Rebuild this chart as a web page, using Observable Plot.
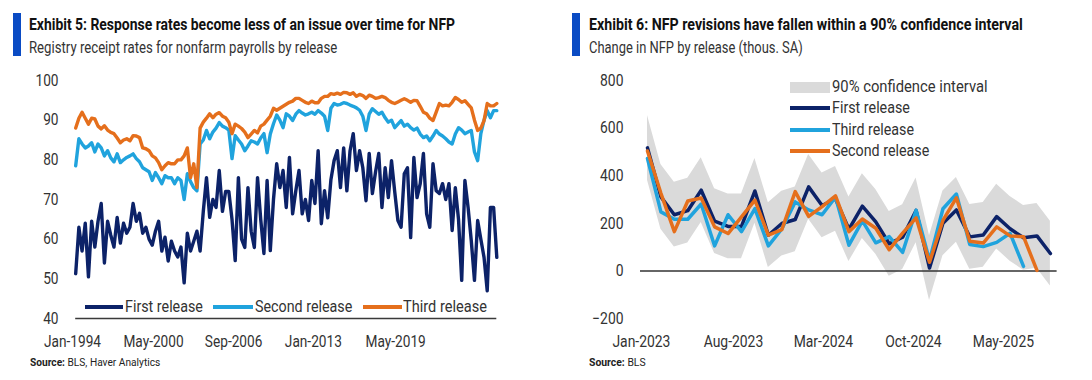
<!DOCTYPE html>
<html><head><meta charset="utf-8">
<script src="https://cdn.jsdelivr.net/npm/d3@7"></script>
<script src="https://cdn.jsdelivr.net/npm/@observablehq/plot@0.6"></script>
<style>
html,body{margin:0;padding:0;background:#fff;}
body{width:1092px;height:380px;overflow:hidden;position:relative;font-family:Roboto,"Liberation Sans",sans-serif;}
.panel{position:absolute;top:0;width:546px;height:380px;}
.bar{position:absolute;top:13px;width:8px;height:43px;background:#0a4bc4;}
.fit{position:absolute;white-space:nowrap;transform-origin:0 50%;display:inline-block;}
.title{top:15px;font-weight:bold;font-size:16.5px;color:#111;line-height:20px;}
.subtitle{top:38px;font-size:16px;color:#333;line-height:20px;}
.chart{position:absolute;left:0;top:60px;}
.source{top:355px;font-size:11.5px;color:#222;line-height:14px;}
.lg{font-size:16.5px;color:#333;line-height:20px;}
.sw{position:absolute;}
</style></head>
<body>
<div class="panel" id="p1" style="left:0">
  <div class="bar" style="left:13px"></div>
  <div class="fit title" data-w="426" style="left:29px">Exhibit 5: Response rates become less of an issue over time for NFP</div>
  <div class="fit subtitle" data-w="308" style="left:29px">Registry receipt rates for nonfarm payrolls by release</div>
  <div class="chart" id="c1"></div>
  <div id="lg1"></div>
  <div class="fit source" data-w="130" style="left:30px"><b>Source:</b> BLS, Haver Analytics</div>
</div>
<div class="panel" id="p2" style="left:546px">
  <div class="bar" style="left:26px"></div>
  <div class="fit title" data-w="434" style="left:43px">Exhibit 6: NFP revisions have fallen within a 90% confidence interval</div>
  <div class="fit subtitle" data-w="214" style="left:43px">Change in NFP by release (thous. SA)</div>
  <div class="chart" id="c2"></div>
  <div id="lg2"></div>
  <div class="fit source" data-w="57" style="left:43px"><b>Source:</b> BLS</div>
</div>
<script>
const FONT = 'Roboto,"Liberation Sans",sans-serif';
const NAVY = "#0c2268", CYAN = "#20a3dd", ORANGE = "#e56f1c", GRAY = "#dadada";

// ---------- Exhibit 5: registry receipt rates (quarterly samples, Jan-1994 onward) ----------
const rrFirst = [51.3,63,57,64,50.5,64.5,58,64.5,69,54,
 64.5,61,58,65.5,59,64,61.5,63,69,64.5,
 66.5,61.5,63,60,58.5,62,64.5,57,60.5,54.5,
 59.5,57,55.5,58,49,61.5,57,59.5,62,57,
 67,75.5,65.5,70,68,77.3,67,72,72,65,
 54.6,75.5,60,57.9,73,62,57.9,75.5,65,56.4,
 74.8,57.1,70,79,73,77.3,68,80.6,66.4,72.2,
 77.3,66.4,70,64.7,74.8,69,82.3,63.9,72.2,65.4,
 75,79.8,82.3,73,83,72.2,82.3,86.6,77.3,82.3,
 78,69.7,81.6,71.5,77,81.6,68,78,70.5,79.8,
 72,64.7,63,76.5,78,60.4,80.6,70.5,74,81.6,
 66.4,63,79,72.2,71.5,74,70,74,62.2,73,
 65,49.6,74.8,68,59.6,49.6,64.7,60,55.4,47,
 68,68,55.4];
const rrSecond = [78.5,85.3,84,83,83.5,84.3,82,84,83,81,
 82.3,80.5,79.5,81.5,79.3,80,80.6,81,81.5,80.3,
 79.5,78,77.5,77,74.8,76.8,75.5,74,76,75.5,
 75.5,74,75.5,74.8,70,76.5,74.5,73,72.2,84,
 85,87.4,85.3,87,88,89.4,88.5,88.1,87.5,80.3,
 86.1,85,84,82.3,83.5,84.8,84.5,84,85.5,86.6,
 81.8,86.5,89.1,91.3,90,88.1,91.6,91,89.9,91.5,
 92.4,91.8,91.3,91.6,92,91.5,92.4,91.8,91,87.4,
 93,94.2,93.8,94,94.4,94.2,93.8,93.5,93.1,92.5,
 91,87.4,91.5,92.9,92.2,91.5,92,90.6,89.5,90,
 88.1,89,89.9,88.5,89,88.1,87.5,88,86.5,85.6,
 86,84.8,86,87.4,86.5,86,85.3,84.5,84,86.5,
 88.1,87.5,86.6,87,87.4,82,79.8,86.6,90,92.4,
 90.6,92.4,92.4];
const rrThird = [88,90.5,92,90.5,89,90.5,90.3,88.5,87.8,88.6,
 87.5,86.9,86.6,85.5,84.3,85,85.3,84.8,86.1,86,
 85.6,83,82.8,82.3,81,80.5,79.3,77.5,78.5,79.3,
 79,79,80,80,81,83,75.5,79,73,88,
 89.5,90.5,91.6,90.6,91.5,91.9,91,90.6,89.5,86.6,
 89,88.5,87.9,87,85.6,86.5,87.4,86.8,88.5,89,
 90,91,93,92.5,93,93.5,94,94.5,94.8,95.5,
 95.5,95,94.5,94.2,94.8,94.4,94.4,95.5,96,96,
 96.7,96.5,96.8,96.5,97,96.9,96.5,96.9,96,96.5,
 96.2,95.5,96.3,96,95.5,95.7,96,95.7,95,94.5,
 94.2,94.6,95,95.4,95,94.5,95,94.9,93.5,92,
 91.6,90.5,89.9,92,94.2,93.6,93.8,93.6,94.5,95.7,
 95.2,94.5,94.9,94,93.1,90,87.4,88,89.9,94.2,
 93.6,93.6,94.2];
const rrTickPos = [-1, 24.4, 49.5, 74.5, 100.3];
const rrTickLabels = ["Jan-1994","May-2000","Sep-2006","Jan-2013","May-2019"];
const rrYTicks = [40,50,60,70,80,90,100];

// ---------- Exhibit 6: NFP change by release, Jan-2023 .. Jul-2025 ----------
const nfpFirst  = [517,311,236,253,339,209,187,187,336,150,199,216,353,275,303,175,272,206,114,142,254,12,200,256,143,151,228,177,139,147,73];
const nfpSecond = [504,326,165,294,306,185,157,227,297,150,173,333,229,270,315,165,218,179,89,159,223,36,212,307,125,117,185,147,144,2];
const nfpThird  = [472,248,217,217,281,105,236,165,262,105,176,290,256,236,310,108,210,118,144,78,255,44,261,323,111,102,120,158,19];
const ciHigh = [653,447,372,389,475,345,323,323,472,286,335,352,489,411,439,311,408,342,250,278,390,148,336,392,279,287,364,313,275,283,209];
const ciLow  = [381,175,100,117,203,73,51,51,200,14,63,80,217,139,167,39,136,70,-22,6,118,-124,64,120,7,15,92,41,3,11,-63];
const nfpTickPos = [-0.45, 6.4, 13.1, 19.8, 26.5];
const nfpTickLabels = ["Jan-2023","Aug-2023","Mar-2024","Oct-2024","May-2025"];
const nfpYTicks = [-200,0,200,400,600,800];

const lab1 = new Map(rrTickPos.map((p,i)=>[p, rrTickLabels[i]]));
const lab2 = new Map(nfpTickPos.map((p,i)=>[p, nfpTickLabels[i]]));
const style = {fontFamily: FONT, color: "#333", background: "transparent", overflow: "visible"};

const chart1 = Plot.plot({
  width: 546, height: 300,
  marginLeft: 72, marginRight: 49.7, marginTop: 20, marginBottom: 42,
  x: {domain: [-1, rrFirst.length - 1]},
  y: {domain: [40, 100]},
  style,
  marks: [
    Plot.ruleY([40], {x1: 0, x2: rrFirst.length - 1, stroke: "#3a3a3a", strokeWidth: 1.5}),
    Plot.lineY(rrFirst, {stroke: NAVY, strokeWidth: 3.4}),
    Plot.lineY(rrSecond, {stroke: CYAN, strokeWidth: 3.4}),
    Plot.lineY(rrThird, {stroke: ORANGE, strokeWidth: 3.4}),
    Plot.axisX(rrTickPos, {tickSize: 0, tickPadding: 17, fontSize: 16.5, tickFormat: d => lab1.get(d)}),
    Plot.axisY(rrYTicks, {tickSize: 0, tickPadding: 14, fontSize: 16.5})
  ]
});
document.getElementById("c1").append(chart1);

const chart2 = Plot.plot({
  width: 546, height: 300,
  marginLeft: 94, marginRight: 35.4, marginTop: 20, marginBottom: 42,
  x: {domain: [-0.52, 30.5]},
  y: {domain: [-200, 800]},
  style,
  marks: [
    Plot.areaY(ciHigh, {x: (d,i) => i, y1: (d,i) => ciLow[i], y2: d => d, fill: GRAY}),
    Plot.ruleY([0], {stroke: "#333", strokeWidth: 1.5}),
    Plot.lineY(nfpFirst, {stroke: NAVY, strokeWidth: 3.5}),
    Plot.lineY(nfpThird, {stroke: CYAN, strokeWidth: 3.5}),
    Plot.lineY(nfpSecond, {stroke: ORANGE, strokeWidth: 3.5}),
    Plot.axisX(nfpTickPos, {tickSize: 0, tickPadding: 17, fontSize: 16.5, tickFormat: d => lab2.get(d)}),
    Plot.axisY(nfpYTicks, {tickSize: 0, tickPadding: 17, fontSize: 16.5})
  ]
});
document.getElementById("c2").append(chart2);

// legends
function legend(el, items) {
  const c = document.getElementById(el);
  for (const it of items) {
    const s = document.createElement("div");
    s.className = "sw";
    Object.assign(s.style, {left: it.sx + "px", top: (it.y - it.h/2) + "px", width: it.sw + "px", height: it.h + "px", background: it.color});
    c.append(s);
    const t = document.createElement("div");
    t.className = "fit lg";
    t.textContent = it.label;
    t.dataset.w = it.tw;
    Object.assign(t.style, {left: it.tx + "px", top: (it.y - 10) + "px"});
    c.append(t);
  }
}
const lg1Labels = ["First release","Second release","Third release"];
const lg1Colors = [NAVY, CYAN, ORANGE];
const lg1Pos = [[85,38,125,78],[213,40,255,97],[363,39,403,84]];
legend("lg1", lg1Labels.map((l,i)=>({label:l, color:lg1Colors[i], sx:lg1Pos[i][0], sw:lg1Pos[i][1], tx:lg1Pos[i][2], tw:lg1Pos[i][3], y:307, h:3.5})));
const lg2Labels = ["90% confidence interval","First release","Third release","Second release"];
const lg2Colors = [GRAY, NAVY, CYAN, ORANGE];
const lg2Y = [87,108,130,151];
const lg2W = [156,78,82,97];
legend("lg2", lg2Labels.map((l,i)=>({label:l, color:lg2Colors[i], sx:244, sw:40, tx:286, tw:lg2W[i], y:lg2Y[i], h: i===0 ? 11 : 4})));

// condense text horizontally to match the reference's narrow typeface
function fitAll() {
  document.querySelectorAll(".fit").forEach(el => {
    el.style.transform = "none";
    const w = el.offsetWidth, t = +el.dataset.w;
    if (w > 0 && t > 0) el.style.transform = `scaleX(${t / w})`;
  });
  for (const [svg, target] of [[chart1, 57], [chart2, 58]]) {
    const texts = svg.querySelectorAll("g[aria-label$='tick label'] text");
    const xl = svg.querySelector("g[aria-label='x-axis tick label'] text");
    if (!xl) continue;
    xl.removeAttribute("textLength");
    const f = target / xl.getComputedTextLength();
    texts.forEach(t => {
      t.removeAttribute("textLength");
      const L = t.getComputedTextLength();
      t.setAttribute("textLength", L * f);
      t.setAttribute("lengthAdjust", "spacingAndGlyphs");
    });
  }
}
fitAll();
if (document.fonts && document.fonts.ready) document.fonts.ready.then(fitAll);
</script>
</body></html>
